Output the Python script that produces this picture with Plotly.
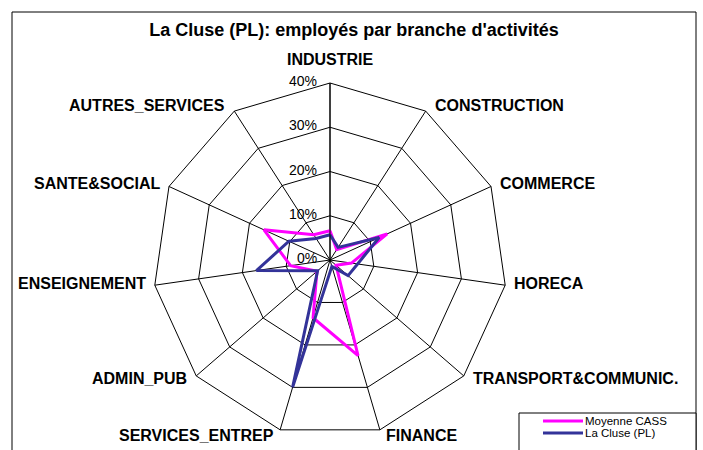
import math
import plotly.graph_objects as go

branches = ['INDUSTRIE', 'CONSTRUCTION', 'COMMERCE', 'HORECA', 'TRANSPORT&COMMUNIC.',
            'FINANCE', 'SERVICES_ENTREP', 'ADMIN_PUB', 'ENSEIGNEMENT', 'SANTE&SOCIAL',
            'AUTRES_SERVICES']
moyenne_cass = [6.6, 2.8, 14.2, 4.9, 1.8, 22.5, 13.6, 3.9, 9.0, 16.4, 6.8]
la_cluse = [5.7, 3.4, 12.2, 6.3, 5.4, 1.5, 30.0, 3.7, 16.8, 10.2, 5.8]
radial_ticks = [0, 10, 20, 30, 40]
radial_labels = ['0%', '10%', '20%', '30%', '40%']

series = [('Moyenne CASS', moyenne_cass, '#FF00FF'),
          ('La Cluse (PL)', la_cluse, '#333399')]

W, H = 703, 450
# centre (330, 260), rayon 177 px pour 40%
cx, cy, r = 330, 260, 177
rmax = radial_ticks[-1]

fig = go.Figure()
for name, vals, col in series:
    fig.add_trace(go.Scatterpolar(
        r=vals + vals[:1],
        theta=branches + branches[:1],
        mode='lines', name=name, showlegend=False,
        line=dict(color=col, width=3),
    ))

shapes = [dict(type='rect', xref='paper', yref='paper',
               x0=12 / W, x1=696 / W, y0=-0.05, y1=1 - 12 / H,
               line=dict(color='black', width=1), layer='below'),
          dict(type='rect', xref='paper', yref='paper',
               x0=519 / W, x1=696 / W, y0=-0.05, y1=1 - 413 / H,
               line=dict(color='black', width=1), fillcolor='white', layer='above')]
annotations = []

# libelles des branches places comme excel, autour des sommets
n = len(branches)
for k, lab in enumerate(branches):
    a = math.radians(360.0 * k / n)
    s, c = math.sin(a), math.cos(a)
    vx = cx + r * s
    vy = cy - r * c
    if abs(s) < 0.1:
        xa, x, ya, y = 'center', vx, 'bottom', vy - 14
    else:
        gap = 5 if abs(c) > 0.9 else 8
        xa = 'left' if s > 0 else 'right'
        x = vx + (gap if s > 0 else -gap)
        dy = -7 * c
        if c < 0:
            dy -= 3 * abs(s)
        ya, y = 'middle', vy + dy
    annotations.append(dict(xref='paper', yref='paper', x=x / W, y=1 - y / H,
                            xanchor=xa, yanchor=ya, showarrow=False, text=lab,
                            borderpad=0,
                            font=dict(size=16, family='Liberation Sans', weight='bold')))

# graduations en % a gauche de l'axe INDUSTRIE
for v, lab in zip(radial_ticks, radial_labels):
    y = cy - r * v / rmax - 2
    annotations.append(dict(xref='paper', yref='paper', x=(cx - 12) / W, y=1 - y / H,
                            xanchor='right', yanchor='middle', showarrow=False,
                            text=lab, borderpad=0,
                            font=dict(size=14, family='Liberation Sans')))

# legende faite a la main (lignes serrees comme dans excel)
for i, (name, vals, col) in enumerate(series):
    yy = 1 - (421 + 12 * i) / H
    shapes.append(dict(type='line', xref='paper', yref='paper',
                       x0=543 / W, x1=583 / W, y0=yy, y1=yy,
                       line=dict(color=col, width=3)))
    annotations.append(dict(xref='paper', yref='paper', x=584 / W, y=yy,
                            xanchor='left', yanchor='middle', showarrow=False,
                            text=name, borderpad=0,
                            font=dict(size=11.5, family='Liberation Sans')))

fig.update_layout(
    width=W, height=H,
    margin=dict(l=0, r=0, t=0, b=0),
    paper_bgcolor='white',
    font=dict(family='Liberation Sans', color='black'),
    title=dict(text="<b>La Cluse (PL): employés par branche d'activités</b>",
               x=354 / W, xanchor='center', y=1 - 30 / H, yanchor='middle',
               font=dict(size=18, family='Liberation Sans')),
    polar=dict(
        domain=dict(x=[(cx - r) / W, (cx + r) / W],
                    y=[(H - cy - r) / H, (H - cy + r) / H]),
        bgcolor='white',
        gridshape='linear',
        angularaxis=dict(direction='clockwise', rotation=90,
                         categoryorder='array', categoryarray=branches,
                         linecolor='black', linewidth=1,
                         gridcolor='black', gridwidth=1,
                         ticks='', showline=True, showticklabels=False),
        radialaxis=dict(range=[0, rmax], tickvals=radial_ticks,
                        angle=90, showticklabels=False,
                        showline=True, linecolor='black', linewidth=1,
                        gridcolor='black', gridwidth=1, ticks=''),
    ),
    shapes=shapes,
    annotations=annotations,
)

fig.write_html('out.html', config={'displayModeBar': False},
               post_script="document.body.style.margin='0';")
